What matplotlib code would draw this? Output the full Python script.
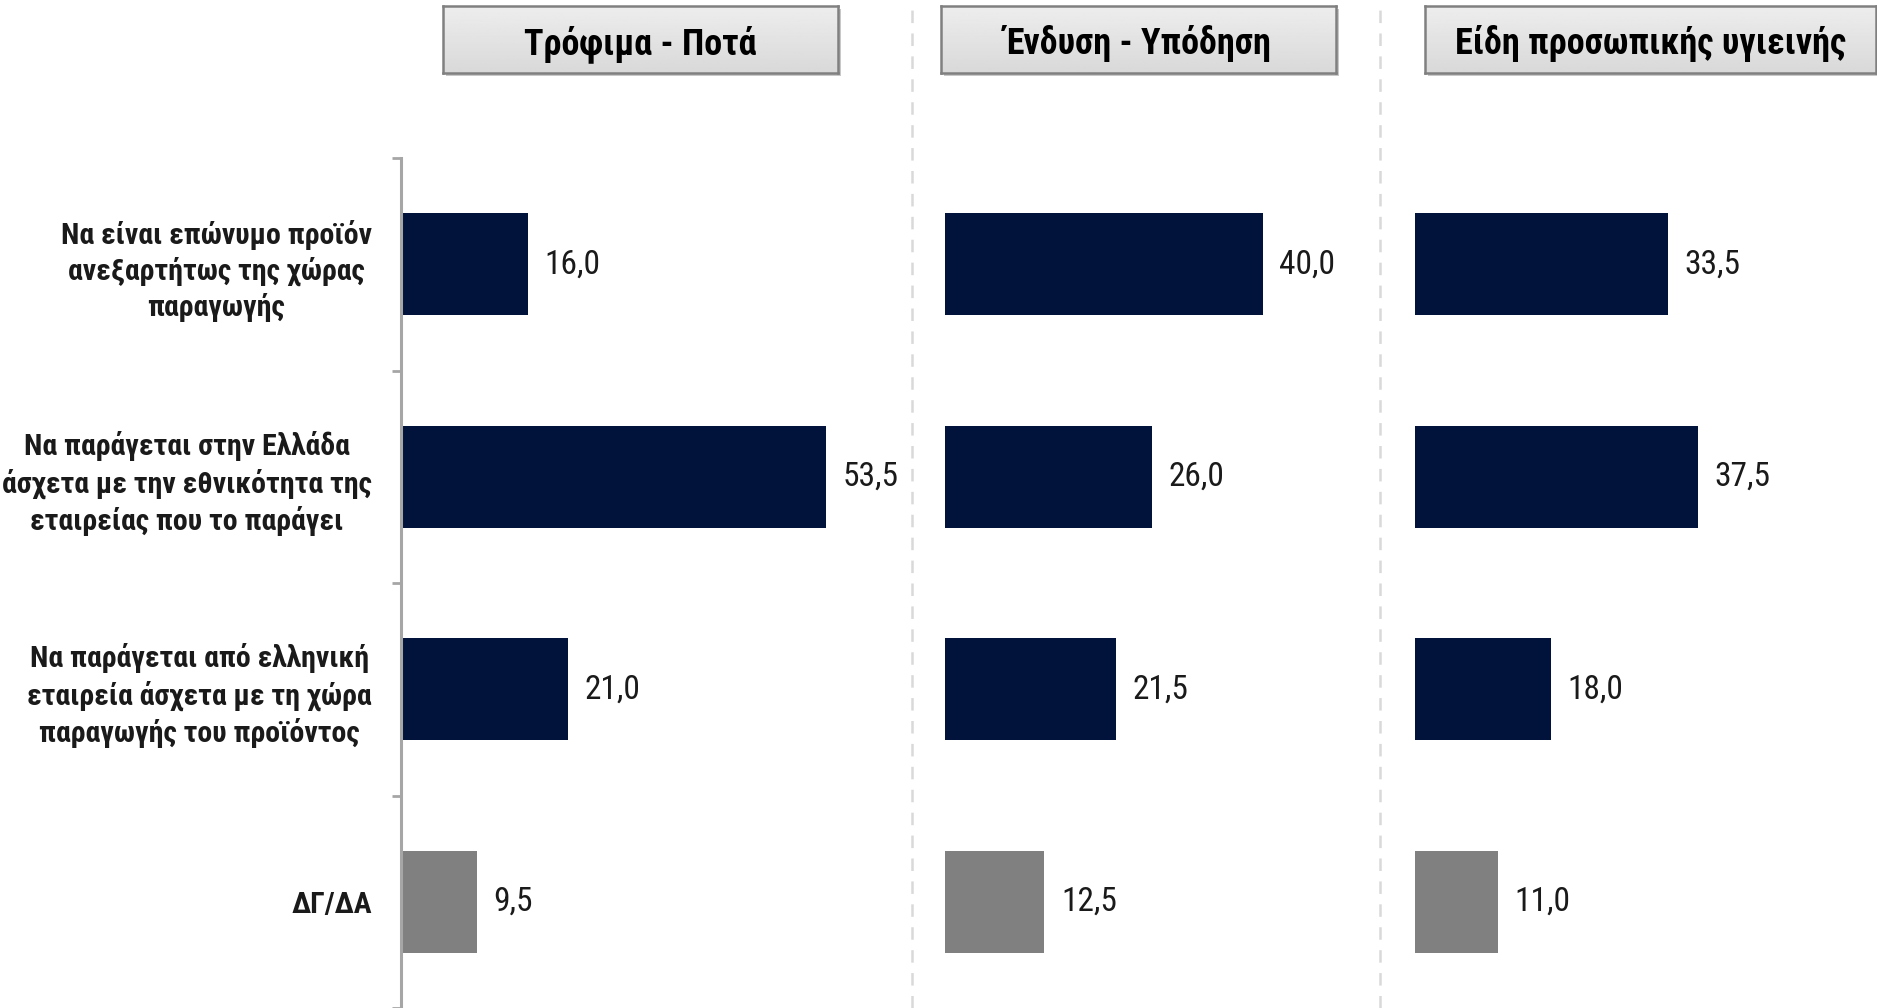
#Horizontal bar panels: preference of origin / brand per product category.
#Three panels share the same row categories, only the first shows labels.
import numpy as np
import matplotlib.pyplot as plt
from matplotlib.lines import Line2D

plt.rcParams['lines.scale_dashes'] = False

categories = ["Να είναι επώνυμο προϊόν\nανεξαρτήτως της χώρας\nπαραγωγής",
              "Να παράγεται στην Ελλάδα\nάσχετα με την εθνικότητα της\nεταιρείας που το παράγει",
              "Να παράγεται από ελληνική\nεταιρεία άσχετα με τη χώρα\nπαραγωγής του προϊόντος",
              "ΔΓ/ΔΑ"]
panel_titles = ["Τρόφιμα - Ποτά", "Ένδυση - Υπόδηση", "Είδη προσωπικής υγιεινής"]
food_vals = [16.0, 53.5, 21.0, 9.5]
clothing_vals = [40.0, 26.0, 21.5, 12.5]
hygiene_vals = [33.5, 37.5, 18.0, 11.0]

NAVY = "#01133A"
GREY = "#808080"
bar_colors = [NAVY, NAVY, NAVY, GREY]

W, H = 1877, 1008
fig = plt.figure(figsize=(W/100, H/100), dpi=100)

FONT = ['Roboto Condensed', 'DejaVu Sans']

#axes geometry in pixels: left, width, xmax
panels = [(401, 477, 60, food_vals),
          (945, 437, 55, clothing_vals),
          (1415, 415, 55, hygiene_vals)]
ax_top = 158
axes = []
for left, width, xmax, vals in panels:
    ax = fig.add_axes([left/W, 0, width/W, 1 - ax_top/H])
    y = np.arange(len(vals))
    bars = ax.barh(y, vals, height=0.48, color=bar_colors)
    ax.bar_label(bars, labels=[f"{v:.1f}".replace('.', ',') for v in vals],
                 padding=12, fontsize=24, color="#1a1a1a", family=FONT)
    ax.set_xlim(0, xmax)
    ax.set_ylim(len(vals) - 0.5, -0.5)
    ax.set_xticks([])
    for s in ax.spines.values():
        s.set_visible(False)
    ax.patch.set_alpha(0)
    axes.append(ax)

#first panel: grey spine with boundary ticks and category labels
ax1 = axes[0]
ax1.spines['left'].set_visible(True)
ax1.spines['left'].set_color("#A6A6A6")
ax1.spines['left'].set_linewidth(2.2)
ax1.set_yticks(np.arange(-0.5, len(categories), 1.0))
ax1.set_yticklabels([])
ax1.tick_params(axis='y', which='major', length=6.5, width=2, color="#A6A6A6")
ax1.set_yticks(np.arange(len(categories)), labels=categories, minor=True,
               ma='center', fontweight='bold', fontsize=21.5, color="#1a1a1a",
               family=FONT, linespacing=1.3)
ax1.tick_params(axis='y', which='minor', length=0, pad=21)
for ax in axes[1:]:
    ax.set_yticks([])

#dashed separators between panels
for xpix in [912, 1380]:
    fig.add_artist(Line2D([xpix/W, xpix/W], [0, 1], transform=fig.transFigure,
                          color="#D9D9D9", linewidth=1.8, dashes=(9, 7.5)))

#title boxes with a light grey gradient and a drop shadow
boxes = [(443, 838), (941, 1336), (1425, 1876)]
grad = np.linspace(0.93, 0.85, 50).reshape(-1, 1)
for (x0, x1), title in zip(boxes, panel_titles):
    by0, by1 = 6, 73
    sh = fig.add_axes([(x0 + 3)/W, 1 - (by1 + 3)/H, (x1 - x0)/W, (by1 - by0)/H])
    sh.set_facecolor("#C8C8C8")
    sh.set_xticks([]); sh.set_yticks([])
    for s in sh.spines.values():
        s.set_visible(False)
    bx = fig.add_axes([x0/W, 1 - by1/H, (x1 - x0)/W, (by1 - by0)/H])
    bx.imshow(grad, cmap='gray', vmin=0, vmax=1, aspect='auto',
              extent=[0, 1, 0, 1])
    bx.set_xticks([]); bx.set_yticks([])
    for s in bx.spines.values():
        s.set_color("#808080")
        s.set_linewidth(1.8)
    bx.text(0.5, 0.28, title, ha='center', va='baseline', fontsize=26,
            fontweight='bold', family=FONT, transform=bx.transAxes)

fig.savefig("out.png", dpi=100)
